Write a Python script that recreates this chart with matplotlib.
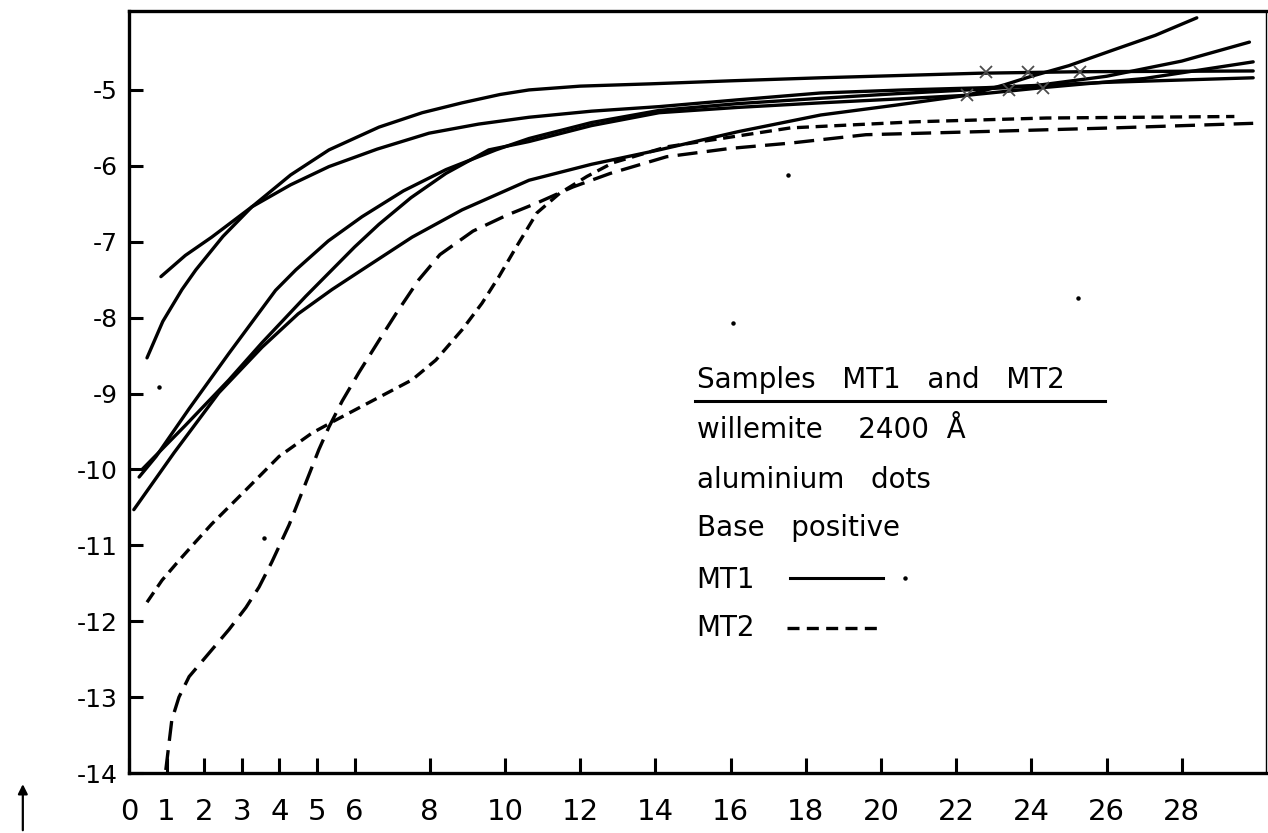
import numpy as np
import matplotlib
matplotlib.use('Agg')
import matplotlib.pyplot as plt

plt.rcParams['font.family'] = ['DejaVu Sans']

# MT1 (solid) curves
mt1_a_x = [0.85, 1.5, 2.2, 3.27, 4.3, 5.32, 6.6, 7.98, 9.3, 10.64, 12.3, 14.1, 16.2, 18.4, 20.6, 22.8, 26.0, 29.9]
mt1_a_y = [-7.46, -7.18, -6.94, -6.54, -6.25, -6.01, -5.78, -5.57, -5.45, -5.36, -5.28, -5.22, -5.13, -5.04, -5.0, -4.97, -4.9, -4.84]

mt1_b_x = [0.48, 0.9, 1.41, 1.78, 2.5, 3.27, 4.3, 5.32, 6.65, 7.8, 8.86, 9.87, 10.64, 12.0, 13.86, 16.0, 18.4, 20.5, 22.6, 25.3, 29.9]
mt1_b_y = [-8.53, -8.05, -7.63, -7.37, -6.93, -6.54, -6.12, -5.79, -5.49, -5.3, -5.17, -5.06, -5.0, -4.95, -4.92, -4.88, -4.84, -4.81, -4.78, -4.76, -4.75]

mt1_c_x = [0.27, 0.72, 1.6, 2.66, 3.9, 4.44, 5.3, 6.2, 7.3, 8.43, 9.76, 10.64, 12.3, 14.1, 16.2, 18.4, 20.4, 22.3, 24.0, 26.0, 28.0, 29.8]
mt1_c_y = [-10.1, -9.83, -9.2, -8.47, -7.64, -7.37, -6.99, -6.67, -6.33, -6.05, -5.79, -5.64, -5.43, -5.27, -5.18, -5.11, -5.05, -5.0, -4.95, -4.82, -4.62, -4.37]

mt1_d_x = [0.35, 1.5, 2.66, 3.54, 4.7, 5.4, 6.0, 6.65, 7.5, 8.43, 9.57, 10.64, 12.3, 14.1, 16.2, 18.4, 20.4, 22.3, 24.3, 27.0, 29.9]
mt1_d_y = [-10.0, -9.42, -8.82, -8.33, -7.72, -7.37, -7.07, -6.77, -6.42, -6.1, -5.79, -5.68, -5.47, -5.3, -5.23, -5.17, -5.12, -5.07, -4.97, -4.85, -4.63]

mt1_e_x = [0.13, 1.2, 2.39, 3.54, 4.5, 5.4, 6.2, 7.53, 8.86, 10.64, 12.3, 14.1, 16.2, 18.4, 20.4, 22.3, 23.3, 24.0, 25.0, 26.2, 27.3, 28.4]
mt1_e_y = [-10.53, -9.78, -8.99, -8.39, -7.95, -7.63, -7.37, -6.94, -6.58, -6.19, -5.98, -5.79, -5.55, -5.33, -5.2, -5.07, -4.93, -4.82, -4.68, -4.47, -4.28, -4.05]

# MT2 (dashed) curves
mt2_long_x = [0.98, 1.14, 1.33, 1.6, 2.13, 2.66, 3.11, 3.46, 3.8, 4.26, 4.7, 5.05, 5.32, 5.67, 6.12, 6.65, 7.1, 7.71,
              8.27, 9.15, 10.05, 10.85, 11.8, 12.8, 14.3, 16.0, 17.6, 19.6, 22.6, 26.2, 29.9]
mt2_long_y = [-13.96, -13.3, -13.0, -12.73, -12.42, -12.11, -11.82, -11.55, -11.22, -10.73, -10.18, -9.74, -9.44, -9.1, -8.72,
              -8.3, -7.95, -7.5, -7.17, -6.86, -6.65, -6.49, -6.28, -6.1, -5.88, -5.77, -5.7, -5.59, -5.55, -5.5, -5.44]

mt2_short_x = [0.48, 0.88, 1.33, 1.78, 2.2, 3.11, 3.99, 4.87, 5.5, 6.38, 7.53, 8.16, 8.86, 9.39, 9.84, 10.3, 10.85,
               11.46, 12.18, 12.87, 14.3, 17.6, 20.9, 24.4, 29.4]
mt2_short_y = [-11.75, -11.46, -11.2, -10.95, -10.72, -10.27, -9.83, -9.52, -9.35, -9.12, -8.82, -8.56, -8.16, -7.81,
               -7.46, -7.07, -6.62, -6.36, -6.14, -5.96, -5.75, -5.5, -5.42, -5.37, -5.35]

# crossing marks near x=22-25
cross_x = [22.8, 22.3, 23.4, 23.9, 24.3, 25.3]
cross_y = [-4.76, -5.07, -5.0, -4.76, -4.97, -4.76]

# stray specks on the original sheet
speck_x = [0.8, 3.59, 16.06, 25.24, 17.53]
speck_y = [-8.91, -10.9, -8.07, -7.74, -6.12]

xticks = [0, 1, 2, 3, 4, 5, 6, 8, 10, 12, 14, 16, 18, 20, 22, 24, 26, 28]
yticks = [-14, -13, -12, -11, -10, -9, -8, -7, -6, -5]

legend_title = 'Samples   MT1   and   MT2'
legend_lines = ['willemite    2400  Å', 'aluminium   dots', 'Base   positive']

fig = plt.figure(figsize=(12.68, 8.33), dpi=100)
ax = fig.add_axes([0.1017, 0.072, 0.8967, 0.9148])

lw = 2.4
for xs, ys in [(mt1_a_x, mt1_a_y), (mt1_b_x, mt1_b_y), (mt1_c_x, mt1_c_y),
               (mt1_d_x, mt1_d_y), (mt1_e_x, mt1_e_y)]:
    ax.plot(xs, ys, color='black', lw=lw, solid_capstyle='round', solid_joinstyle='round')

ax.plot(mt2_long_x, mt2_long_y, color='black', lw=lw, dashes=(6, 2.8))
ax.plot(mt2_short_x, mt2_short_y, color='black', lw=lw, dashes=(3.6, 2.0))

ax.plot(cross_x, cross_y, ls='none', marker='x', ms=9, mew=1.3, color='0.3')
ax.plot(speck_x, speck_y, ls='none', marker='o', ms=2.2, color='black')

ax.set_xlim(0, 30.24)
ax.set_ylim(-14, -3.96)

ax.set_xticks(xticks)
ax.set_xticklabels([str(t) for t in xticks], fontsize=21)
ax.set_yticks(yticks)
ax.set_yticklabels([str(t) for t in yticks], fontsize=18)
ax.tick_params(axis='x', direction='in', length=11, width=2.2, pad=18)
ax.tick_params(axis='y', direction='in', length=10, width=2.2, pad=8)

for side in ['left', 'top', 'bottom']:
    ax.spines[side].set_linewidth(2.4)
ax.spines['right'].set_linewidth(1.0)

# annotation block
ax.text(15.1, -8.82, legend_title, fontsize=20, va='center', ha='left')
ax.plot([15.05, 25.96], [-9.10, -9.10], color='black', lw=2.2)
for i, s in enumerate(legend_lines):
    ax.text(15.1, [-9.48, -10.14, -10.77][i], s, fontsize=20, va='center', ha='left')
ax.text(15.1, -11.46, 'MT1', fontsize=20, va='center', ha='left')
ax.plot([17.58, 20.05], [-11.43, -11.43], color='black', lw=2.2)
ax.plot([20.64], [-11.43], marker='o', ms=2.2, color='black')
ax.text(15.1, -12.09, 'MT2', fontsize=20, va='center', ha='left')
ax.plot([17.5, 19.92], [-12.09, -12.09], color='black', lw=2.4, dashes=(3.6, 2.2))

# small upward arrow at the lower left corner
fig.patches.append(matplotlib.patches.FancyArrowPatch(
    (0.018, 0.0), (0.018, 0.062), transform=fig.transFigure, arrowstyle='-|>',
    mutation_scale=14, lw=1.6, color='black'))

fig.savefig('out.png', dpi=100)
